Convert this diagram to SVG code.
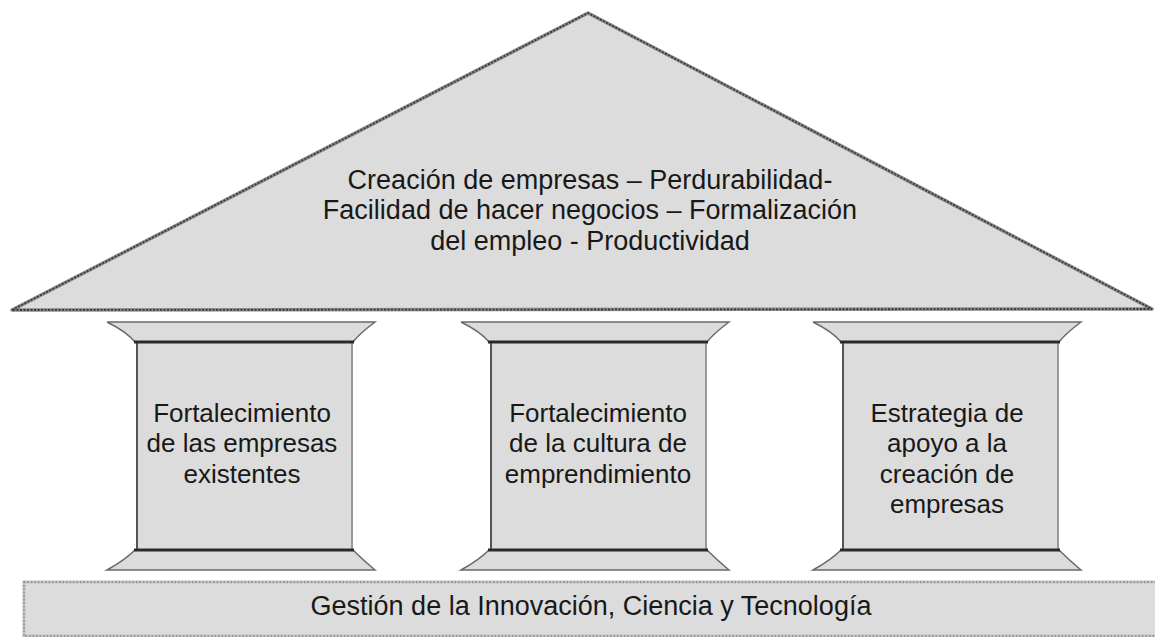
<svg xmlns="http://www.w3.org/2000/svg" width="1155" height="637" viewBox="0 0 1155 637">
  <style>
    .fill { fill: #dcdcdc; }
    .tex-under { fill: none; stroke: #8a8a8a; stroke-width: 3.5; stroke-linejoin: round; }
    .tex-over { fill: none; stroke: #3a3a3a; stroke-width: 1.8; stroke-dasharray: 2 1.5; }
    .found-under { fill: none; stroke: #c4c4c4; stroke-width: 3; }
    .found-over { fill: none; stroke: #888; stroke-width: 1.5; stroke-dasharray: 1.5 2; }
    .thin { fill: none; stroke: #6a6a6a; stroke-width: 1.5; }
    .thick { fill: none; stroke: #2a2a2a; stroke-width: 3; }
    .shaftL { stroke: #555; stroke-width: 2; }
    .shaftR { stroke: #999; stroke-width: 2; }
    text { font-family: "Liberation Sans", Arial, sans-serif; fill: #181818; text-anchor: middle; }
    .roof-t { font-size: 27px; }
    .pil-t { font-size: 26px; }
    .base-t { font-size: 27px; }
  </style>
  <defs>
    <g id="pillar">
      <!-- capital -->
      <path class="fill" d="M0,0 L268,0 Q252,12 246,20 L28,20 Q20,10 0,0 Z"/>
      <path class="thin" d="M0,0 L268,0 Q252,12 246,20 M0,0 Q20,10 28,20"/>
      <!-- shaft -->
      <rect class="fill" x="29" y="20" width="216" height="208"/>
      <line class="shaftL" x1="30" y1="20" x2="30" y2="228"/>
      <line class="shaftR" x1="245" y1="20" x2="245" y2="228"/>
      <!-- base -->
      <path class="fill" d="M28,228 L246,228 Q256,238 268,248 L0,248 Q18,238 28,228 Z"/>
      <path class="thin" d="M28,228 Q18,238 0,248 L268,248 Q256,238 246,228"/>
      <line class="thick" x1="27" y1="20" x2="247" y2="20"/>
      <line class="thick" x1="27" y1="228" x2="247" y2="228"/>
    </g>
  </defs>

  <g id="roof">
    <polygon class="fill" points="12,310 588,13 1152,309"/>
    <polygon class="tex-under" points="12,310 588,13 1152,309"/>
    <polygon class="tex-over" points="12,310 588,13 1152,309"/>
    <text class="roof-t" x="590" y="189">Creación de empresas – Perdurabilidad-</text>
    <text class="roof-t" x="590" y="219">Facilidad de hacer negocios – Formalización</text>
    <text class="roof-t" x="590" y="250">del empleo - Productividad</text>
  </g>

  <g id="pillar1">
    <use href="#pillar" x="107" y="322"/>
    <text class="pil-t" x="242" y="422">Fortalecimiento</text>
    <text class="pil-t" x="242" y="452">de las empresas</text>
    <text class="pil-t" x="242" y="483">existentes</text>
  </g>

  <g id="pillar2">
    <use href="#pillar" x="461" y="322"/>
    <text class="pil-t" x="598" y="422">Fortalecimiento</text>
    <text class="pil-t" x="598" y="452">de la cultura de</text>
    <text class="pil-t" x="598" y="483">emprendimiento</text>
  </g>

  <g id="pillar3">
    <use href="#pillar" x="813" y="322"/>
    <text class="pil-t" x="947" y="422">Estrategia de</text>
    <text class="pil-t" x="947" y="452">apoyo a la</text>
    <text class="pil-t" x="947" y="483">creación de</text>
    <text class="pil-t" x="947" y="513">empresas</text>
  </g>

  <g id="foundation">
    <rect class="fill" x="24" y="582" width="1140" height="54"/>
    <rect class="found-under" x="24" y="582" width="1140" height="54"/>
    <rect class="found-over" x="24" y="582" width="1140" height="54"/>
    <text class="base-t" x="591" y="615">Gestión de la Innovación, Ciencia y Tecnología</text>
  </g>

  <g id="connectors"></g>
</svg>
